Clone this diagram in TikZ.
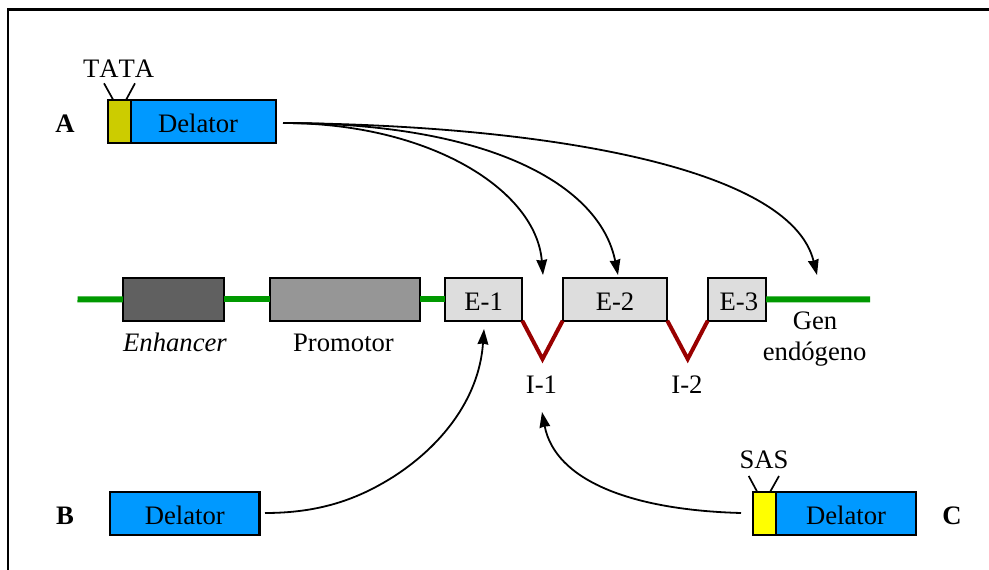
\documentclass[tikz,border=0pt]{standalone}
\usepackage{fontspec}
\setmainfont[Kerning=Off]{Liberation Serif}
\usetikzlibrary{arrows.meta}
\tikzset{
  every node/.style={font=\fontsize{20}{24}\selectfont, inner sep=0pt, outer sep=0pt, text=black},
  block/.style={draw=black, line width=2.2*0.75pt, minimum height=42.5*0.75pt, anchor=north west, text height=16pt, text depth=0pt},
  dna/.style={draw={rgb,255:red,0;green,153;blue,0}, line width=6*0.75pt},
  intron/.style={draw={rgb,255:red,153;green,0;blue,0}, line width=4*0.75pt},
  tick/.style={draw=black, line width=1.7*0.75pt},
  conn/.style={draw=black, line width=1.8*0.75pt, -{Stealth[length=11.5pt,width=8pt,inset=0.6pt]}},
  lab/.style={font=\fontsize{20}{24}\selectfont\bfseries}
}
\definecolor{bluebox}{RGB}{0,153,255}
\definecolor{tata}{RGB}{204,204,0}
\definecolor{sas}{RGB}{255,255,0}
\definecolor{exon}{RGB}{221,221,221}
\definecolor{enh}{RGB}{96,96,96}
\definecolor{prom}{RGB}{150,150,150}
\begin{document}
\begin{tikzpicture}[x=0.75pt,y=-0.75pt]
\useasboundingbox (0,0) rectangle (989,570);
\draw[black,line width=2.2pt] (8,570) -- (8,9.5) -- (989,9.5);
% gene blocks
\node[block,fill=enh,minimum width=100.7*0.75pt] (enhb) at (123,278.2) {};
\node[block,fill=prom,minimum width=149.7*0.75pt] (promb) at (270.3,278.2) {};
\node[block,fill=exon,minimum width=77.3*0.75pt] (e1) at (445,278.2) {E-1};
\node[block,fill=exon,minimum width=104.6*0.75pt] (e2) at (562.7,278.2) {E-2};
\node[block,fill=exon,minimum width=58.3*0.75pt] (e3) at (707.7,278.2) {\kern3pt E-3};
% DNA line
\coordinate (dnaL) at (77.5,299.4);
\coordinate (dnaR) at (870,299.4);
\draw[dna] (dnaL) -- (enhb.west);
\draw[dna] (enhb.east) -- (promb.west);
\draw[dna] (promb.east) -- (e1.west);
\draw[dna] (e3.east) -- (dnaR);
% labels
\node[anchor=base] (enhl) at (175,351.7) {\itshape Enhancer};
\node[anchor=base] (proml) at (343.5,351.7) {Promotor};
\node[anchor=base] (genl) at (815,329.3) {Gen};
\node[anchor=base] (genm) at (814.7,360) {endógeno};
\node[anchor=base] (i1) at (541.5,393.3) {I-1};
\node[anchor=base] (i2) at (687,393.3) {I-2};
% introns
\coordinate (v1) at (542.5,359);
\coordinate (v2) at (687.7,359);
\draw[intron] (e1.south east) -- (v1) -- (e2.south west);
\draw[intron] (e2.south east) -- (v2) -- (e3.south west);
% Delator A
\node[block,fill=tata,minimum width=22.7*0.75pt] (tatab) at (108.3,100.3) {};
\node[block,fill=bluebox,minimum width=144.7*0.75pt] (da) at (131,100.3) {Delator\kern8pt};
\node (tatal) at (118.7,69) {TATA};
\coordinate (ta1) at (104,83.3);
\coordinate (ta2) at (135,83.3);
\coordinate (ta3) at (113.3,100);
\coordinate (ta4) at (126,100);
\draw[tick] (ta1) -- (ta3);
\draw[tick] (ta2) -- (ta4);
\node[lab] (la) at (65,124) {A};
% Delator B
\node[block,fill=bluebox,minimum width=149.5*0.75pt] (db) at (110,492.3) {Delator};
\node[lab] (lb) at (65,516) {B};
% Delator C
\node[block,fill=sas,minimum width=23*0.75pt] (sasb) at (752.7,492.3) {};
\node[block,fill=bluebox,minimum width=140.6*0.75pt] (dc) at (775.7,492.3) {Delator};
\node (sasl) at (764,460) {SAS};
\coordinate (sa1) at (748.7,476);
\coordinate (sa2) at (779,476);
\coordinate (sa3) at (757.3,492);
\coordinate (sa4) at (770,492);
\draw[tick] (sa1) -- (sa3);
\draw[tick] (sa2) -- (sa4);
\node[lab] (lc) at (952,516) {C};
% connectors
\coordinate (aout) at (283,123);
\coordinate (t1) at (543,275);
\coordinate (t2) at (618,275);
\coordinate (t3) at (817,275);
\coordinate (bout) at (265,513);
\coordinate (bmid) at (393,477);
\coordinate (t4) at (484,329);
\coordinate (cout) at (741,513);
\coordinate (t5) at (542,412);
\draw[conn] (aout) .. controls (430,123) and (536,190) .. (t1);
\draw[conn] (aout) .. controls (490,123) and (600,185) .. (t2);
\draw[conn] (aout) .. controls (535,125) and (790,165) .. (t3);
\draw[conn] (bout) .. controls (320,513) and (358,499) .. (bmid) .. controls (440,447) and (479,400) .. (t4);
\draw[conn] (cout) .. controls (630,510) and (555,480) .. (t5);
\end{tikzpicture}
\end{document}
